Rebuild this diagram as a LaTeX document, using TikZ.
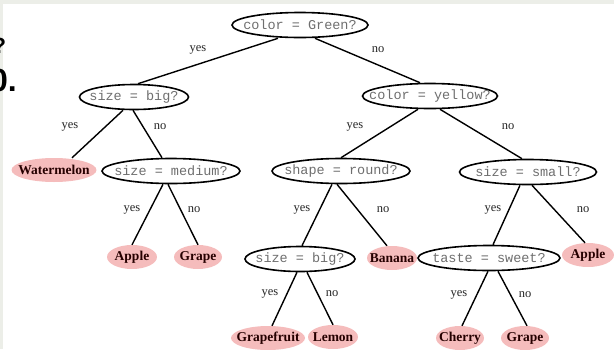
\documentclass[tikz,border=0pt]{standalone}
\usepackage{fontspec}
\setmainfont{Liberation Serif}
\setsansfont{Liberation Sans}
\setmonofont{Liberation Mono}
\usepackage{tikz}
\usetikzlibrary{shapes.geometric, positioning}
\definecolor{leafpink}{RGB}{245,188,188}
\definecolor{testgray}{RGB}{110,110,110}
\definecolor{edgegray}{RGB}{236,238,232}

\begin{document}
\begin{tikzpicture}[
x=1pt, y=-1pt,
test/.style={ellipse, draw, line width=1.6pt, inner xsep=-40pt, inner ysep=0pt,
  minimum height=25pt, font=\ttfamily\fontsize{13.5}{14}\selectfont, text=testgray},
leaf/.style={ellipse, fill=leafpink, inner xsep=-20pt, inner ysep=0pt,
  minimum height=24pt, font=\bfseries\fontsize{13.5}{14}\selectfont, text=black!85!red},
lbl/.style={font=\fontsize{12.5}{13}\selectfont, text=black!85},
cut/.style={font=\sffamily\bfseries, inner sep=0pt, anchor=base west},
branch/.style={line width=1.4pt}
]
\useasboundingbox (0,0) rectangle (614,349);
\fill[edgegray] (0,0) rectangle (614,4);
\fill[edgegray] (0,0) rectangle (3,349);

% cut-off text of the slide at the left
\node[cut, font=\sffamily\bfseries\fontsize{22}{24}\selectfont] (cut1) at (-7.5,53) {?};
\node[cut, font=\sffamily\bfseries\fontsize{32}{34}\selectfont] (cut2) at (-10,91) {0.};

% questions
\node[test, minimum width=136pt] (root) at (300,25) {color = Green?};
\node[test, minimum width=109pt] (big1) at (134,97) {size = big?};
\node[test, minimum width=135pt] (yellow) at (430,96) {color = yellow?};
\node[test, minimum width=138pt] (medium) at (171,171) {size = medium?};
\node[test, minimum width=138pt] (round) at (341,171) {shape = round?};
\node[test, minimum width=137pt] (small) at (528,172) {size = small?};
\node[test, minimum width=110pt] (big2) at (300,259) {size = big?};
\node[test, minimum width=142pt] (sweet) at (489,258) {taste = sweet?};

% answers
\node[leaf, minimum width=85pt] (melon) at (54,170) {Watermelon};
\node[leaf, minimum width=50pt] (apple1) at (132,257) {Apple};
\node[leaf, minimum width=48pt] (grape1) at (198,257) {Grape};
\node[leaf, minimum width=50pt] (banana) at (392,258) {Banana};
\node[leaf, minimum width=52pt] (apple2) at (588,255) {Apple};
\node[leaf, minimum width=74pt] (gfruit) at (268,338) {Grapefruit};
\node[leaf, minimum width=50pt] (lemon) at (333,337) {Lemon};
\node[leaf, minimum width=48pt] (cherry) at (460,338) {Cherry};
\node[leaf, minimum width=48pt] (grape2) at (525,338) {Grape};

% branches
\draw[branch] ([xshift=-22pt]root.south) -- ([xshift=4pt]big1.north);
\draw[branch] ([xshift=15pt]root.south) -- ([xshift=-10pt]yellow.north);
\draw[branch] ([xshift=-11pt]big1.south) -- ([xshift=18pt]melon.north);
\draw[branch] ([xshift=-1pt]big1.south) -- ([xshift=-9pt]medium.north);
\draw[branch] ([xshift=-12pt]yellow.south) -- (round.north);
\draw[branch] ([xshift=10pt]yellow.south) -- ([xshift=-6pt]small.north);
\draw[branch] ([xshift=-8pt]medium.south) -- (apple1.north);
\draw[branch] ([xshift=-3pt]medium.south) -- (grape1.north);
\draw[branch] ([xshift=-9pt]round.south) -- ([xshift=2pt]big2.north);
\draw[branch] ([xshift=-4pt]round.south) -- ([xshift=-5pt]banana.north);
\draw[branch] ([xshift=-8pt]small.south) -- ([xshift=4pt]sweet.north);
\draw[branch] ([xshift=4pt]small.south) -- ([xshift=-3pt]apple2.north);
\draw[branch] ([xshift=-3pt]big2.south) -- ([xshift=4pt]gfruit.north);
\draw[branch] ([xshift=7pt]big2.south) -- (lemon.north);
\draw[branch] ([xshift=-1pt]sweet.south) -- ([xshift=2pt]cherry.north);
\draw[branch] ([xshift=9pt]sweet.south) -- ([xshift=2pt]grape2.north);

% yes / no
\node[lbl] (y1) at (198,50) {yes};
\node[lbl] (n1) at (378,50) {no};
\node[lbl] (y2) at (70,127) {yes};
\node[lbl] (n2) at (160,127) {no};
\node[lbl] (y3) at (355,127) {yes};
\node[lbl] (n3) at (508,127) {no};
\node[lbl] (y4) at (132,210) {yes};
\node[lbl] (n4) at (194,210) {no};
\node[lbl] (y5) at (302,210) {yes};
\node[lbl] (n5) at (383,210) {no};
\node[lbl] (y6) at (493,210) {yes};
\node[lbl] (n6) at (583,210) {no};
\node[lbl] (y7) at (270,294) {yes};
\node[lbl] (n7) at (332,294) {no};
\node[lbl] (y8) at (459,295) {yes};
\node[lbl] (n8) at (525,295) {no};
\end{tikzpicture}
\end{document}
